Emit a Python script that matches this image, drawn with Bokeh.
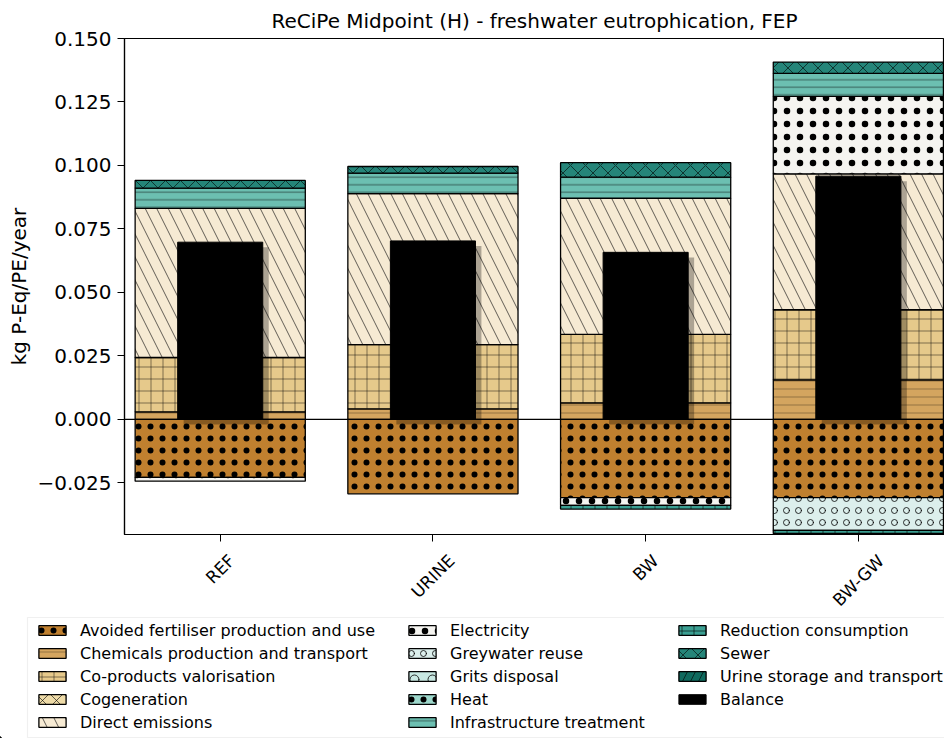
import math
from bokeh.plotting import figure
from bokeh.layouts import column
from bokeh.models import (Range1d, FixedTicker, Span, Label, Legend, LegendItem,
                          BoxAnnotation, ColumnDataSource, CustomJSTickFormatter)
from bokeh.embed import file_html
from bokeh.resources import INLINE

# ---------------- data ----------------
scenarios = ["REF", "URINE", "BW", "BW-GW"]

avoided_fertiliser = [-0.0228, -0.0293, -0.0308, -0.0308]
chemicals          = [0.0030, 0.0042, 0.0065, 0.0156]
co_products        = [0.0214, 0.0253, 0.0270, 0.0276]
cogeneration       = [0.0, 0.0, 0.0, 0.0]
direct_emissions   = [0.0587, 0.0594, 0.0536, 0.0535]
electricity        = [-0.0015, 0.0, -0.0030, 0.0305]
greywater_reuse    = [0.0, 0.0, 0.0, -0.0129]
grits_disposal     = [0.0, 0.0, 0.0, 0.0]
heat               = [0.0, 0.0, 0.0, 0.0]
infrastructure     = [0.0080, 0.0081, 0.0083, 0.0091]
reduction_consumption = [0.0, 0.0, -0.0015, -0.0012]
sewer              = [0.0030, 0.0026, 0.0057, 0.0044]
urine_storage      = [0.0, 0.0, 0.0, 0.0]

process_names = ["Avoided fertiliser production and use", "Chemicals production and transport",
                 "Co-products valorisation", "Cogeneration", "Direct emissions", "Electricity",
                 "Greywater reuse", "Grits disposal", "Heat", "Infrastructure treatment",
                 "Reduction consumption", "Sewer", "Urine storage and transport"]
process_values = [avoided_fertiliser, chemicals, co_products, cogeneration, direct_emissions,
                  electricity, greywater_reuse, grits_disposal, heat, infrastructure,
                  reduction_consumption, sewer, urine_storage]

y_ticks = [-0.025, 0.0, 0.025, 0.05, 0.075, 0.1, 0.125, 0.15]

# balance = net sum of all processes per scenario
balance = [sum(v[i] for v in process_values) for i in range(len(scenarios))]

# ---------------- styles ----------------
styles = [
    dict(fill_color="#c0802f", hatch_pattern="dot", hatch_scale=12, hatch_weight=0.3, hatch_alpha=1.0),
    dict(fill_color="#d4a55f", hatch_pattern="horizontal_line", hatch_scale=8, hatch_weight=1, hatch_alpha=0.3),
    dict(fill_color="#e6c98b", hatch_pattern="cross", hatch_scale=12, hatch_weight=1, hatch_alpha=0.45),
    dict(fill_color="#eedba8", hatch_pattern="diagonal_cross", hatch_scale=14, hatch_weight=1, hatch_alpha=0.6),
    dict(fill_color="#f6ead3", hatch_pattern="left_diagonal_line", hatch_scale=23, hatch_weight=1, hatch_alpha=0.6),
    dict(fill_color="#f5f4f0", hatch_pattern="dot", hatch_scale=13, hatch_weight=3, hatch_alpha=1.0),
    dict(fill_color="#dcefec", hatch_pattern="ring", hatch_scale=12, hatch_weight=1, hatch_alpha=0.8),
    dict(fill_color="#c8e8e2", hatch_pattern="ring", hatch_scale=18, hatch_weight=1, hatch_alpha=0.8),
    dict(fill_color="#9ed8cc", hatch_pattern="dot", hatch_scale=12, hatch_weight=0.3, hatch_alpha=1.0),
    dict(fill_color="#6cbfb1", hatch_pattern="horizontal_line", hatch_scale=7.5, hatch_weight=1, hatch_alpha=0.5),
    dict(fill_color="#3b9f92", hatch_pattern="cross", hatch_scale=12, hatch_weight=1, hatch_alpha=0.6),
    dict(fill_color="#258579", hatch_pattern="diagonal_cross", hatch_scale=15, hatch_weight=1, hatch_alpha=0.6),
    dict(fill_color="#0f6a5e", hatch_pattern="right_diagonal_line", hatch_scale=16, hatch_weight=1, hatch_alpha=0.6),
]

FONT = "DejaVu Sans"
W = 944
MAIN_H = 546
LEG_H = 192
FRAME_L = 124
X0, X1 = -0.45, 3.405

# ---------------- main chart ----------------
p = figure(width=W, height=MAIN_H, output_backend="svg", toolbar_location=None,
           x_range=Range1d(X0, X1), y_range=Range1d(-0.0453, 0.150),
           min_border_left=FRAME_L, min_border_right=0, min_border_top=38, min_border_bottom=12)

p.title.text = "ReCiPe Midpoint (H) - freshwater eutrophication, FEP"
p.title.align = "center"
p.title.text_font = FONT
p.title.text_font_size = "20px"
p.title.text_font_style = "normal"
p.title.text_color = "black"
p.title.standoff = 12

p.xgrid.visible = False
p.ygrid.visible = False
p.outline_line_color = "black"
p.outline_line_width = 1.2

yax = p.yaxis[0]
yax.ticker = FixedTicker(ticks=y_ticks)
yax.formatter = CustomJSTickFormatter(code="return (tick < 0 ? '\\u2212' : '') + Math.abs(tick).toFixed(3);")
yax.axis_label = "kg P-Eq/PE/year"
yax.axis_label_text_font = FONT
yax.axis_label_text_font_size = "20px"
yax.axis_label_text_font_style = "normal"
yax.axis_label_text_color = "black"
yax.axis_label_standoff = 3
yax.major_label_text_font = FONT
yax.major_label_text_font_size = "20px"
yax.major_label_text_color = "black"
yax.major_label_standoff = 6
yax.major_tick_out = 7
yax.major_tick_in = 0
yax.major_tick_line_color = "black"
yax.minor_tick_out = 0
yax.minor_tick_in = 0
yax.axis_line_color = "black"
yax.axis_line_width = 1.2

xax = p.xaxis[0]
xax.ticker = FixedTicker(ticks=list(range(len(scenarios))))
xax.formatter = CustomJSTickFormatter(code="return '';")
xax.major_label_text_font_size = "0px"
xax.major_label_standoff = 0
xax.major_tick_out = 7
xax.major_tick_in = 0
xax.major_tick_line_color = "black"
xax.minor_tick_out = 0
xax.minor_tick_in = 0
xax.axis_line_color = "black"
xax.axis_line_width = 1.2

pos = [0.0] * len(scenarios)
neg = [0.0] * len(scenarios)
for name, vals, st in zip(process_names, process_values, styles):
    xs, bots, tops = [], [], []
    for i, v in enumerate(vals):
        if v > 0:
            b = pos[i]; pos[i] += v; t = pos[i]
        elif v < 0:
            b = neg[i]; neg[i] += v; t = neg[i]
        else:
            continue
        xs.append(i); bots.append(b); tops.append(t)
    src = ColumnDataSource(dict(x=xs, bottom=bots, top=tops))
    p.vbar(x="x", bottom="bottom", top="top", width=0.8, source=src,
           line_color="black", line_width=1.3, hatch_color="black", **st)

dx, dy = 0.028, 0.002
shadow_src = ColumnDataSource(dict(x=[i + dx for i in range(len(scenarios))],
                                   bottom=[-dy] * len(scenarios),
                                   top=[b - dy for b in balance]))
p.vbar(x="x", bottom="bottom", top="top", width=0.4, source=shadow_src,
       fill_color="black", fill_alpha=0.3, line_alpha=0)
bal_src = ColumnDataSource(dict(x=list(range(len(scenarios))), bottom=[0.0] * len(scenarios), top=balance))
p.vbar(x="x", bottom="bottom", top="top", width=0.4, source=bal_src,
       fill_color="black", line_color="black", line_width=1.0)

p.add_layout(Span(location=0, dimension="width", line_color="black", line_width=1.3))

# ---------------- lower panel: rotated x labels + legend ----------------
px_per_unit = (W - FRAME_L) / (X1 - X0)
q = figure(width=W, height=LEG_H, output_backend="svg", toolbar_location=None,
           x_range=Range1d(X0 - FRAME_L / px_per_unit, X1), y_range=Range1d(0, LEG_H),
           x_axis_location=None, y_axis_location=None,
           min_border=0, min_border_left=0, min_border_right=0, min_border_top=0, min_border_bottom=0)
for fig in (p, q):
    if "frame_align" in fig.properties():
        fig.frame_align = False
q.xgrid.visible = False
q.ygrid.visible = False
q.outline_line_color = None

char_w = {"R": .695, "E": .632, "F": .575, "U": .732, "I": .295, "N": .748,
          "B": .686, "W": .989, "-": .361, "G": .775}
xfs = 17
for i, s in enumerate(scenarios):
    w = sum(char_w.get(c, 0.65) for c in s) * xfs
    half = 0.3536 * (w + 1.17 * xfs)
    q.add_layout(Label(x=i, y=LEG_H - (4 + half), x_units="data", y_units="screen", text=s,
                       angle=math.pi / 4, text_align="center", text_baseline="middle",
                       text_font=FONT, text_font_size=f"{xfs}px", text_color="black"))

# legend frame
q.add_layout(BoxAnnotation(left=27, right=W + 10, top=LEG_H - 71, bottom=1,
                           left_units="screen", right_units="screen",
                           top_units="screen", bottom_units="screen",
                           fill_color="white", fill_alpha=1.0,
                           line_color="#cccccc", line_width=1.2, level="underlay"))

# legend-only renderers: one placeholder bar far outside the visible x range
off = dict(x=[X0 - 1000.0], bottom=[0.0], top=[1.0])
leg_renderers = []
for st in styles:
    r = q.vbar(x="x", bottom="bottom", top="top", width=0.8, source=ColumnDataSource(dict(off)),
               line_color="black", line_width=1.3, hatch_color="black", **st)
    leg_renderers.append(r)
bal_leg = q.vbar(x="x", bottom="bottom", top="top", width=0.4, source=ColumnDataSource(dict(off)),
                 fill_color="black", line_color="black", line_width=1.0)

items = [LegendItem(label=n, renderers=[r]) for n, r in zip(process_names, leg_renderers)]
items.append(LegendItem(label="Balance", renderers=[bal_leg]))

columns = [(items[0:5], 35), (items[5:10], 405), (items[10:14], 675)]
item_h, spacing = 19, 4
first_center = 84  # px from top of this panel
top_s = LEG_H - (first_center - item_h / 2)
for its, xs in columns:
    n = len(its)
    height = n * item_h + (n - 1) * spacing
    leg = Legend(items=its, location=(xs, top_s - height),
                 orientation="vertical", padding=0, margin=0, spacing=spacing,
                 glyph_width=34, glyph_height=12, label_height=12, label_standoff=11,
                 label_text_font=FONT, label_text_font_size="16px", label_text_color="black",
                 border_line_alpha=0, background_fill_alpha=0)
    q.add_layout(leg, "center")

layout = column(p, q, spacing=0)
open("out.html", "w").write(file_html(layout, INLINE))
